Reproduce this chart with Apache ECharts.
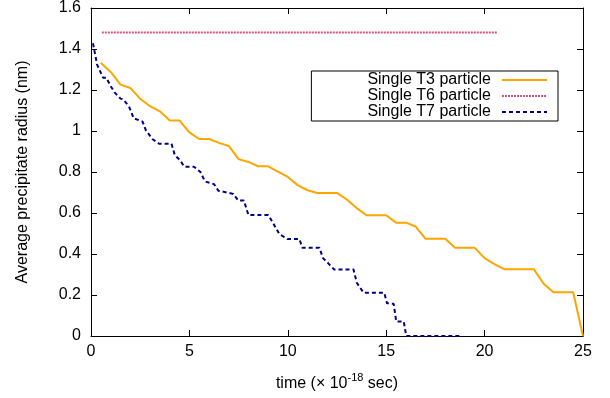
<!DOCTYPE html>
<html>
<head>
<meta charset="utf-8">
<script src="https://cdn.jsdelivr.net/npm/echarts@6/dist/echarts.min.js"></script>
<style>
  html, body { margin: 0; padding: 0; background: #fff; }
  #main { width: 610px; height: 398px; }
</style>
</head>
<body>
<div id="main"></div>
<script>
// 数据 —— 从图上读出来的
var t3Time = [0.5, 1, 1.5, 2, 2.5, 3, 3.5, 4, 4.5, 5, 5.5, 6, 6.5, 7, 7.5, 8, 8.5, 9, 9.5, 10,
  10.5, 11, 11.5, 12, 12.5, 13, 13.5, 14, 14.5, 15, 15.5, 16, 16.5, 17, 17.5, 18, 18.5, 19, 19.5, 20,
  20.5, 21, 21.5, 22, 22.5, 23, 23.5, 24, 24.5, 25];
var t3Radius = [1.333, 1.288, 1.226, 1.21, 1.157, 1.121, 1.096, 1.051, 1.051, 0.993, 0.961, 0.961, 0.942, 0.927, 0.863, 0.849, 0.828, 0.828, 0.802, 0.776,
  0.736, 0.711, 0.698, 0.698, 0.698, 0.666, 0.624, 0.589, 0.589, 0.589, 0.553, 0.553, 0.534, 0.474, 0.474, 0.474, 0.430, 0.430, 0.430, 0.380,
  0.351, 0.326, 0.326, 0.326, 0.326, 0.255, 0.213, 0.213, 0.213, 0];

var t6Time = [0.55, 20.65];
var t6Radius = [1.481, 1.481];

var t7Time = [0.1, 0.31, 0.61, 0.78, 0.99, 1.21, 1.5, 1.63, 1.93, 2.17, 2.62, 2.79, 3.13, 3.46, 4.09, 4.26, 4.52, 4.74, 5.23, 5.56,
  5.79, 6.25, 6.47, 7.23, 7.48, 7.77, 8.0, 9.01, 9.24, 9.57, 9.98, 10.59, 10.74, 11.61, 11.78, 12.07, 12.36, 13.34, 13.51, 13.85,
  14.9, 15.04, 15.38, 15.51, 15.89, 16.02, 18.86];
var t7Radius = [1.428, 1.324, 1.26, 1.26, 1.22, 1.187, 1.158, 1.155, 1.12, 1.062, 1.046, 1.003, 0.96, 0.938, 0.938, 0.882, 0.858, 0.826, 0.826, 0.80,
  0.754, 0.741, 0.709, 0.693, 0.661, 0.661, 0.59, 0.59, 0.553, 0.497, 0.473, 0.473, 0.43, 0.43, 0.381, 0.353, 0.324, 0.324, 0.259, 0.211,
  0.211, 0.16, 0.157, 0.071, 0.071, 0, 0];

var xTicks = { min: 0, max: 25, interval: 5 };
var yTicks = { min: 0, max: 1.6, interval: 0.2 };

function pairs(xs, ys) {
  var out = [];
  for (var i = 0; i < xs.length; i++) out.push([xs[i], ys[i]]);
  return out;
}

var font = 'Liberation Sans';
var axisLine = { show: true, onZero: false, lineStyle: { color: '#000', width: 1 } };
var tick = { show: true, inside: true, length: 6, lineStyle: { color: '#000' } };

var myChart = echarts.init(document.getElementById('main'));
var option = {
  animation: false,
  backgroundColor: '#fff',
  grid: { left: 91, right: 27, top: 5, bottom: 62 },
  legend: {
    orient: 'vertical',
    right: 52,
    top: 71,
    align: 'right',
    itemWidth: 45,
    itemHeight: 16,
    itemGap: 0,
    padding: [1, 10, 1, 56],
    borderColor: '#000',
    borderWidth: 1,
    itemStyle: { opacity: 0 },
    textStyle: { fontFamily: font, fontSize: 16, color: '#000', lineHeight: 16, padding: [0, 6, 0, 0] },
    data: ['Single T3 particle', 'Single T6 particle', 'Single T7 particle']
  },
  xAxis: [{
    type: 'value',
    min: xTicks.min, max: xTicks.max, interval: xTicks.interval,
    name: 'time (× 10{sup|-18} sec)',
    nameLocation: 'middle',
    nameGap: 36,
    nameTextStyle: {
      fontFamily: font, fontSize: 16, color: '#000',
      rich: { sup: { fontFamily: font, fontSize: 11, color: '#000', padding: [0, 0, 13, 0] } }
    },
    axisLine: axisLine,
    axisTick: tick,
    axisLabel: { fontFamily: font, fontSize: 16, color: '#000', margin: 8 },
    splitLine: { show: false }
  }, {
    type: 'value', position: 'top',
    min: xTicks.min, max: xTicks.max, interval: xTicks.interval,
    axisLine: axisLine, axisTick: tick,
    axisLabel: { show: false }, splitLine: { show: false }
  }],
  yAxis: [{
    type: 'value',
    min: yTicks.min, max: yTicks.max, interval: yTicks.interval,
    name: 'Average precipitate radius (nm)',
    nameLocation: 'middle',
    nameGap: 60,
    nameTextStyle: { fontFamily: font, fontSize: 16, color: '#000' },
    axisLine: axisLine,
    axisTick: tick,
    axisLabel: { fontFamily: font, fontSize: 16, color: '#000', margin: 10 },
    splitLine: { show: false }
  }, {
    type: 'value', position: 'right',
    min: yTicks.min, max: yTicks.max, interval: yTicks.interval,
    axisLine: axisLine, axisTick: tick,
    axisLabel: { show: false }, splitLine: { show: false }
  }],
  series: [{
    name: 'Single T3 particle',
    type: 'line',
    symbol: 'none',
    lineStyle: { color: '#ffa500', width: 2 },
    itemStyle: { color: '#ffa500' },
    data: pairs(t3Time, t3Radius)
  }, {
    name: 'Single T6 particle',
    type: 'line',
    symbol: 'none',
    lineStyle: { color: '#e0507a', width: 2, type: [2, 1] },
    itemStyle: { color: '#e0507a' },
    data: pairs(t6Time, t6Radius)
  }, {
    name: 'Single T7 particle',
    type: 'line',
    symbol: 'none',
    lineStyle: { color: '#00008b', width: 2, type: [4, 3] },
    itemStyle: { color: '#00008b' },
    data: pairs(t7Time, t7Radius)
  }]
};
myChart.setOption(option, true);
window.onresize = function () {
  myChart.resize();
};
</script>
</body>
</html>
